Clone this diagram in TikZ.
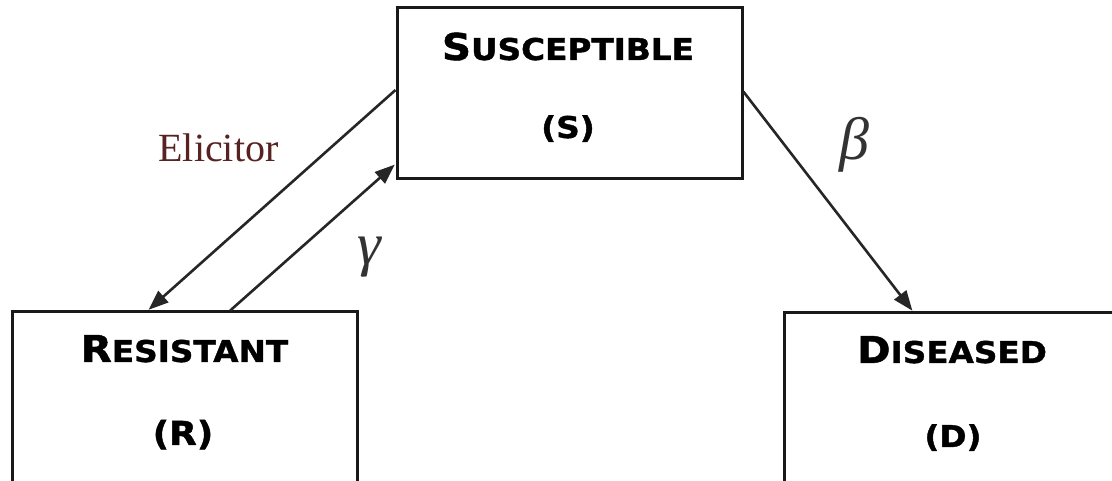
\documentclass[tikz,border=0pt]{standalone}
\usepackage{fontspec}
\setmainfont{Liberation Serif}
\newfontfamily\capsfont{DejaVu Sans}[BoldFont={DejaVu Sans Bold}, BoldFeatures={FakeBold=1.2}]
\usetikzlibrary{arrows.meta,calc}
\definecolor{elicred}{RGB}{88,34,34}
% large initial capital followed by smaller capitals
\newcommand\bigsmallcaps[2]{\scalebox{1.09}[1]{\capsfont\bfseries{\fontsize{37}{37}\selectfont #1}{\fontsize{30}{30}\selectfont #2}}}
\newcommand\smallsym[1]{\scalebox{1.09}[1]{\capsfont\bfseries\fontsize{30}{30}\selectfont #1}}
\begin{document}
\begin{tikzpicture}[x=1pt,y=1pt,
  stagebox/.style={draw=black!90, line width=3pt, minimum width=345pt, inner sep=0pt},
  heading/.style={anchor=base, inner sep=0pt, text=black},
  flow/.style={draw=black!85, line width=2.6pt, -{Triangle[length=20pt,width=15pt]}, shorten >=1pt},
  rate/.style={inner sep=0pt, font=\itshape\fontsize{60}{60}\selectfont, text=black!80}]
\fill[white] (0,0) rectangle (1112,481);
\useasboundingbox (0,0) rectangle (1112,481);
\clip (0,0) rectangle (1112,481);

% compartments
\node[stagebox, minimum height=171pt] (S) at (569.5,387.5) {};
\node[stagebox, minimum height=190pt] (R) at (185,74) {};
\node[stagebox, minimum height=190pt] (D) at (956.5,73) {};

% compartment names
\node[heading] (Stitle) at (568,421) {\bigsmallcaps{S}{USCEPTIBLE}};
\node[heading] (Ssym) at (568,343) {\smallsym{(S)}};
\node[heading] (Rtitle) at (184.5,119) {\bigsmallcaps{R}{ESISTANT}};
\node[heading] (Rsym) at (183,36) {\scalebox{1.09}[1]{\capsfont\bfseries\fontsize{33}{33}\selectfont (R)}};
\node[heading] (Dtitle) at (952,118) {\bigsmallcaps{D}{ISEASED}};
\node[heading] (Dsym) at (953,34) {\smallsym{(D)}};

% transitions
\coordinate (SoutR) at ($(S.north west)!0.48!(S.south west)$);
\coordinate (SinR)  at ($(S.north west)!0.905!(S.south west)$);
\coordinate (SoutD) at ($(S.north east)!0.49!(S.south east)$);
\coordinate (RinS)  at ($(R.north west)!0.393!(R.north east)$);
\coordinate (RoutS) at ($(R.north west)!0.63!(R.north east)$);
\coordinate (DinS)  at ($(D.north west)!0.375!(D.north east)$);

\draw[flow] (SoutR) -- (RinS);
\draw[flow] (RoutS) -- (SinR);
\draw[flow] (SoutD) -- (DinS);

% rate labels
\node[anchor=base, inner sep=0pt, text=elicred, font=\fontsize{40}{40}\selectfont] (elic) at (218.5,319) {Elicitor};
\node[rate] (gam) at (369,224) {γ};
\node[rate] (bet) at (854,336) {β};
\end{tikzpicture}
\end{document}
